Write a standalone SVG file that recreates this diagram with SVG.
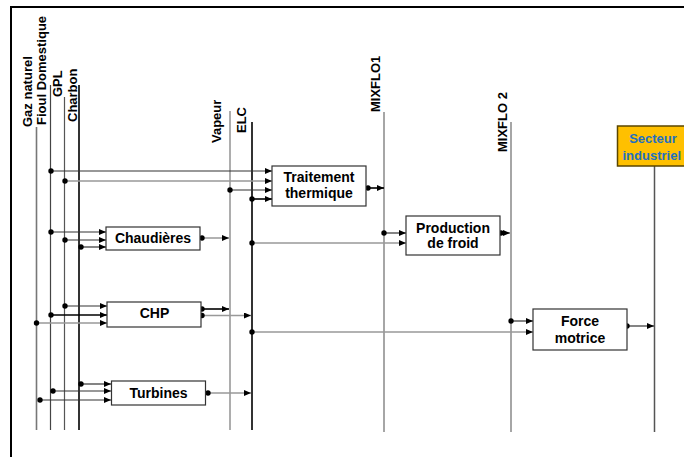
<svg xmlns="http://www.w3.org/2000/svg" width="684" height="457" viewBox="0 0 684 457">
<style>
.lbl{font-family:"Liberation Sans",Arial,sans-serif;font-weight:bold;font-size:13px;fill:#000}
.nt{font-family:"Liberation Sans",Arial,sans-serif;font-weight:bold;font-size:14px;fill:#000;text-anchor:middle}
.box{fill:#fff;stroke:#333;stroke-width:1.2}
.d{stroke:#333;stroke-width:1.2;fill:none}
.g{stroke:#999;stroke-width:1.5;fill:none}
.k{stroke:#000;stroke-width:1.6;fill:none}
.dot{fill:#000}
.sec{font-family:"Liberation Sans",Arial,sans-serif;font-weight:bold;font-size:13px;fill:#2270C0}
</style>
<defs>
<marker id="a" markerWidth="7" markerHeight="6" refX="7" refY="3" orient="auto" markerUnits="userSpaceOnUse">
<path d="M0,0 L7,3 L0,6 z" fill="#000"/>
</marker>
</defs>
<rect x="11" y="7" width="700" height="470" fill="none" stroke="#000" stroke-width="2"/>

<g id="buses">
<line x1="36.5" y1="127" x2="36.5" y2="430" stroke="#777" stroke-width="1.6"/>
<line x1="50.5" y1="85" x2="50.5" y2="430" stroke="#444" stroke-width="1.2"/>
<line x1="64.5" y1="97" x2="64.5" y2="430" stroke="#555" stroke-width="1.2"/>
<line x1="79" y1="85" x2="79" y2="430" stroke="#333" stroke-width="2"/>
<line x1="230" y1="111" x2="230" y2="430" stroke="#999" stroke-width="1.6"/>
<line x1="252" y1="122" x2="252" y2="430" stroke="#333" stroke-width="2"/>
<line x1="384" y1="112" x2="384" y2="432" stroke="#888" stroke-width="1.5"/>
<line x1="511" y1="122" x2="511" y2="432" stroke="#888" stroke-width="1.5"/>
<line x1="654.5" y1="166" x2="654.5" y2="432" stroke="#555" stroke-width="1.5"/>
<text class="lbl" transform="translate(31.5,127) rotate(-90)">Gaz naturel</text>
<text class="lbl" transform="translate(46,125) rotate(-90)">Fioul Domestique</text>
<text class="lbl" transform="translate(61.5,97) rotate(-90)">GPL</text>
<text class="lbl" transform="translate(76.5,122) rotate(-90)">Charbon</text>
<text class="lbl" transform="translate(220.5,143) rotate(-90)">Vapeur</text>
<text class="lbl" transform="translate(245.5,133) rotate(-90)">ELC</text>
<text class="lbl" transform="translate(380,112) rotate(-90)">MIXFLO1</text>
<text class="lbl" transform="translate(506.5,152) rotate(-90)">MIXFLO 2</text>
</g>

<g id="connectors">
<line class="d" x1="51" y1="171" x2="272" y2="171" marker-end="url(#a)"/>
<line class="g" x1="65" y1="181" x2="272" y2="181" marker-end="url(#a)"/>
<line class="d" x1="230" y1="190" x2="272" y2="190" marker-end="url(#a)"/>
<line class="k" x1="252" y1="199" x2="272" y2="199" marker-end="url(#a)"/>
<line class="k" x1="368" y1="188" x2="384" y2="188" marker-end="url(#a)"/>
<circle class="dot" cx="51" cy="171" r="2.7"/>
<circle class="dot" cx="65" cy="181" r="2.7"/>
<circle class="dot" cx="230" cy="190" r="2.7"/>
<circle class="dot" cx="252" cy="199" r="2.7"/>
<circle class="dot" cx="368" cy="188" r="2.7"/>
<line class="d" x1="51" y1="232" x2="106" y2="232" marker-end="url(#a)"/>
<line class="d" x1="65" y1="240" x2="106" y2="240" marker-end="url(#a)"/>
<line class="d" x1="81" y1="247" x2="106" y2="247" marker-end="url(#a)"/>
<line class="g" x1="202" y1="238" x2="229" y2="238" marker-end="url(#a)"/>
<circle class="dot" cx="51" cy="232" r="2.7"/>
<circle class="dot" cx="65" cy="240" r="2.7"/>
<circle class="dot" cx="81" cy="247" r="2.7"/>
<circle class="dot" cx="202" cy="238" r="2.7"/>
<line class="g" x1="252" y1="243" x2="406" y2="243" marker-end="url(#a)"/>
<line class="d" x1="384" y1="233" x2="406" y2="233" marker-end="url(#a)"/>
<line class="d" x1="500" y1="233" x2="510" y2="233" marker-end="url(#a)"/>
<circle class="dot" cx="252" cy="243" r="2.7"/>
<circle class="dot" cx="384" cy="233" r="2.7"/>
<circle class="dot" cx="501" cy="233" r="2.7"/>
<line class="d" x1="65" y1="306" x2="107" y2="306" marker-end="url(#a)"/>
<line class="k" x1="51" y1="315" x2="107" y2="315" marker-end="url(#a)"/>
<line class="g" x1="36.5" y1="323" x2="107" y2="323" marker-end="url(#a)"/>
<line class="k" x1="202" y1="309" x2="229" y2="309" marker-end="url(#a)"/>
<line class="g" x1="202" y1="315.5" x2="251" y2="315.5" marker-end="url(#a)"/>
<circle class="dot" cx="65" cy="306" r="2.7"/>
<circle class="dot" cx="51" cy="315" r="2.7"/>
<circle class="dot" cx="36.5" cy="323" r="2.7"/>
<circle class="dot" cx="202" cy="309" r="2.7"/>
<circle class="dot" cx="202" cy="315.5" r="2.7"/>
<line class="g" x1="252" y1="332" x2="533" y2="332" marker-end="url(#a)"/>
<line class="d" x1="511" y1="321" x2="533" y2="321" marker-end="url(#a)"/>
<line class="d" x1="627" y1="326" x2="654" y2="326" marker-end="url(#a)"/>
<circle class="dot" cx="252" cy="332" r="2.7"/>
<circle class="dot" cx="511" cy="321" r="2.7"/>
<circle class="dot" cx="627" cy="326" r="2.7"/>
<line class="d" x1="81" y1="384" x2="111" y2="384" marker-end="url(#a)"/>
<line class="d" x1="53" y1="391" x2="111" y2="391" marker-end="url(#a)"/>
<line class="d" x1="40" y1="400" x2="111" y2="400" marker-end="url(#a)"/>
<line class="g" x1="208" y1="393" x2="251" y2="393" marker-end="url(#a)"/>
<circle class="dot" cx="81" cy="384" r="2.7"/>
<circle class="dot" cx="53" cy="391" r="2.7"/>
<circle class="dot" cx="40" cy="400" r="2.7"/>
<circle class="dot" cx="208" cy="393" r="2.7"/>
</g>

<g id="traitement">
<rect class="box" x="272" y="166" width="94" height="40"/>
<text class="nt" x="319" y="182">Traitement</text>
<text class="nt" x="319" y="198">thermique</text>
</g>
<g id="chaudieres">
<rect class="box" x="106" y="227" width="94" height="23"/>
<text class="nt" x="153" y="243">Chaudières</text>
</g>
<g id="production">
<rect class="box" x="406" y="216" width="94" height="39"/>
<text class="nt" x="453" y="233">Production</text>
<text class="nt" x="453" y="248">de froid</text>
</g>
<g id="chp">
<rect class="box" x="107" y="302" width="94" height="25"/>
<text class="nt" x="154.5" y="318">CHP</text>
</g>
<g id="turbines">
<rect class="box" x="111.5" y="381" width="94" height="24"/>
<text class="nt" x="158.5" y="398">Turbines</text>
</g>
<g id="force">
<rect class="box" x="533" y="309" width="94" height="41"/>
<text class="nt" x="580" y="326">Force</text>
<text class="nt" x="580" y="343">motrice</text>
</g>
<g id="secteur">
<rect x="617.5" y="126" width="80" height="40" fill="#FFC000" stroke="#5a4600" stroke-width="1.5"/>
<text class="sec" x="653" y="143" text-anchor="middle">Secteur</text>
<text class="sec" x="622.5" y="160">industriel</text>
</g>
</svg>
